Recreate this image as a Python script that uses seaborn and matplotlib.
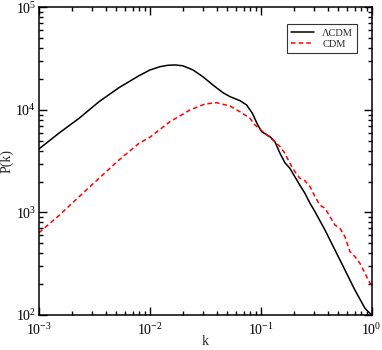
import matplotlib
matplotlib.use("Agg")
import matplotlib.pyplot as plt
import seaborn as sns
import pandas as pd
import numpy as np
from matplotlib.ticker import LogLocator, NullFormatter

# Lambda-CDM power spectrum (k, P)
k_lcdm = [0.001, 0.00151, 0.00230, 0.00348, 0.00526, 0.00798, 0.0100, 0.01233,
          0.0145, 0.01683, 0.01986, 0.0245, 0.0301, 0.0371, 0.0456, 0.0527, 0.0649,
          0.0745, 0.0840, 0.0930, 0.1019, 0.121, 0.134, 0.149, 0.165, 0.183, 0.203,
          0.225, 0.250, 0.278, 0.308, 0.379, 0.467, 0.574, 0.706, 0.871, 1.0]
p_lcdm = [4170, 5930, 8300, 12050, 16500, 21600, 24550, 26450,
          27300, 27500, 27000, 24550, 21100, 17500, 14750, 13500, 12330,
          11200, 9300, 7300, 6140, 5490, 4910, 3780, 3060, 2700, 2230,
          1850, 1540, 1230, 1020, 675, 430, 275, 175, 116, 100]

# CDM power spectrum (k, P)
k_cdm = [0.001, 0.00151, 0.00230, 0.00348, 0.00526, 0.00798, 0.0100, 0.01517,
         0.0230, 0.0314, 0.0400, 0.0527, 0.0649, 0.0798, 0.0887, 0.0984,
         0.109, 0.134, 0.149, 0.165, 0.183, 0.203, 0.225, 0.250, 0.278,
         0.308, 0.342, 0.379, 0.421, 0.467, 0.518, 0.574, 0.637, 0.706,
         0.784, 0.871, 0.966, 1.0]
p_cdm = [635, 931, 1426, 2157, 3250, 4730, 5420, 7690,
         10000, 11450, 11790, 10940, 9620, 8300, 7140, 6480,
         5930, 4910, 4390, 3780, 3020, 2500, 2160, 2040, 1790,
         1430, 1180, 1100, 910, 755, 700, 580, 415, 371,
         319, 255, 204, 198]

labels = ["\u039bCDM", "CDM"]

df = pd.concat([
    pd.DataFrame({"k": k_lcdm, "P": p_lcdm, "model": labels[0]}),
    pd.DataFrame({"k": k_cdm, "P": p_cdm, "model": labels[1]}),
])

sns.set_style("ticks")
plt.rcParams["font.family"] = ["Liberation Serif", "DejaVu Serif"]
plt.rcParams["mathtext.fontset"] = "stix"

fig = plt.figure(figsize=(3.82, 3.5), dpi=100)
ax = fig.add_axes([0.102, 0.10, 0.871, 0.8786])

sns.lineplot(data=df, x="k", y="P", hue="model", style="model",
             palette={labels[0]: "black", labels[1]: "#ff0000"},
             dashes={labels[0]: "", labels[1]: (3, 2)},
             linewidth=1.1, ax=ax, sort=False, estimator=None)

ax.set_xscale("log")
ax.set_yscale("log")
ax.set_xlim(1e-3, 1)
ax.set_ylim(1e2, 1e5)
ax.xaxis.set_major_locator(LogLocator(base=10, numticks=10))
ax.yaxis.set_major_locator(LogLocator(base=10, numticks=10))
ax.xaxis.set_minor_locator(LogLocator(base=10, subs=np.arange(2, 10), numticks=20))
ax.yaxis.set_minor_locator(LogLocator(base=10, subs=np.arange(2, 10), numticks=20))
ax.xaxis.set_minor_formatter(NullFormatter())
ax.yaxis.set_minor_formatter(NullFormatter())

ax.tick_params(which="both", direction="in", top=True, right=True,
               colors="black", labelsize=10, width=1.0)
ax.tick_params(which="major", length=5.5)
ax.tick_params(axis="x", which="major", pad=5)
ax.tick_params(axis="y", which="major", pad=2)
ax.tick_params(which="minor", length=3)
for s in ax.spines.values():
    s.set_linewidth(1.1)
    s.set_color("black")

ax.set_xlabel("k", fontsize=10)
ax.set_ylabel("P(k)", fontsize=10)
ax.xaxis.set_label_coords(0.5, -0.065)
ax.yaxis.set_label_coords(-0.075, 0.5)

leg = ax.legend(loc="upper right", bbox_to_anchor=(0.957, 0.946), fontsize=7.5,
                frameon=True, fancybox=False, edgecolor="black",
                handlelength=2.2, borderpad=0.4, labelspacing=0.2,
                borderaxespad=0)
leg.get_frame().set_linewidth(0.8)
leg.set_title(None)

fig.savefig("out.png", dpi=100)
